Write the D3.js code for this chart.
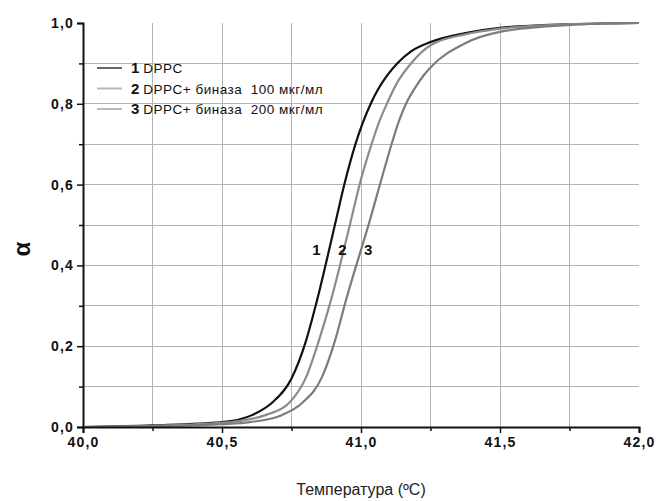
<!DOCTYPE html>
<html><head><meta charset="utf-8">
<script src="https://cdn.jsdelivr.net/npm/d3@7"></script>
<style>body{margin:0;background:#fff}svg{display:block}</style>
</head><body>
<script>
const T1 = [40.0, 40.25, 40.5, 40.61, 40.68, 40.75, 40.803, 40.842, 40.91, 40.94, 40.98, 41.035, 41.06, 41.13, 41.18, 41.25, 41.375, 41.5, 41.75, 42.0];
const A1 = [0.0, 0.004, 0.012, 0.03, 0.06, 0.12, 0.215, 0.314, 0.512, 0.6, 0.7, 0.8, 0.834, 0.9, 0.93, 0.953, 0.975, 0.988, 0.997, 1.0];
const T2 = [40.0, 40.25, 40.5, 40.659, 40.742, 40.803, 40.849, 40.892, 40.964, 40.995, 41.038, 41.068, 41.093, 41.128, 41.18, 41.25, 41.375, 41.5, 41.75, 42.0];
const A2 = [0.0, 0.003, 0.01, 0.03, 0.06, 0.124, 0.215, 0.314, 0.512, 0.6, 0.7, 0.76, 0.8, 0.85, 0.9, 0.945, 0.972, 0.986, 0.997, 1.0];
const T3 = [40.0, 40.25, 40.5, 40.6, 40.717, 40.789, 40.86, 40.907, 40.946, 41.032, 41.068, 41.11, 41.138, 41.162, 41.195, 41.225, 41.25, 41.375, 41.5, 41.75, 42.0];
const A3 = [0.0, 0.002, 0.007, 0.012, 0.03, 0.06, 0.124, 0.215, 0.314, 0.512, 0.6, 0.7, 0.76, 0.8, 0.84, 0.87, 0.89, 0.95, 0.978, 0.995, 1.0];
const seriesNames = ["DPPC", "DPPC+ биназа\u00a0\u00a0100 мкг/мл", "DPPC+ биназа\u00a0\u00a0200 мкг/мл"];
const seriesNums = ["1", "2", "3"];
const curveLabelPos = [[40.84, 0.44], [40.933, 0.44], [41.026, 0.44]];
const xTicks = [40.0, 40.5, 41.0, 41.5, 42.0];
const yTicks = [0.0, 0.2, 0.4, 0.6, 0.8, 1.0];
const xGrid = [40.25, 40.5, 40.75, 41.0, 41.25, 41.5, 41.75];
const yGrid = [0.1, 0.2, 0.3, 0.4, 0.5, 0.6, 0.7, 0.8, 0.9];
const xLabel = "Температура (ºC)";
const yLabel = "α";

const W = 657, H = 501;
const x = d3.scaleLinear().domain([40, 42]).range([83, 639]);
const y = d3.scaleLinear().domain([0, 1]).range([427, 23]);
const fmt = v => d3.format(".1f")(v).replace(".", ",");

const svg = d3.select("body").append("svg").attr("width", W).attr("height", H)
  .style("font-family", "Arial, 'Liberation Sans', sans-serif");

// grid
svg.append("g").selectAll("line").data(yGrid).join("line")
  .attr("x1", x(40)).attr("x2", x(42)).attr("y1", d => y(d)).attr("y2", d => y(d))
  .attr("stroke", "#b4b4b4").attr("stroke-width", 1).attr("shape-rendering", "crispEdges");
svg.append("g").selectAll("line").data(xGrid).join("line")
  .attr("y1", y(0)).attr("y2", y(1)).attr("x1", d => x(d)).attr("x2", d => x(d))
  .attr("stroke", "#b4b4b4").attr("stroke-width", 1).attr("shape-rendering", "crispEdges");

// curves
const series = [
  {T: T1, A: A1, color: "#111", w: 2.2},
  {T: T2, A: A2, color: "#8c8c8c", w: 2.2},
  {T: T3, A: A3, color: "#7c7c7c", w: 2.2}
];
const line = d3.line().x(d => x(d[0])).y(d => y(d[1])).curve(d3.curveMonotoneX);
svg.append("g").selectAll("path").data(series).join("path")
  .attr("d", s => line(s.T.map((t, i) => [t, s.A[i]])))
  .attr("fill", "none").attr("stroke", s => s.color).attr("stroke-width", s => s.w);

// axes
const xAxis = d3.axisBottom(x).tickValues(xTicks).tickFormat(fmt).tickSize(6).tickPadding(4);
const xMinor = d3.axisBottom(x).tickValues(xGrid.filter(v => !xTicks.includes(v))).tickFormat("").tickSize(4);
svg.append("g").attr("transform", `translate(0,${y(0)})`).call(xAxis);
svg.append("g").attr("transform", `translate(0,${y(0)})`).call(xMinor).select(".domain").remove();
const yAxis = d3.axisLeft(y).tickValues(yTicks).tickFormat(fmt).tickSize(6).tickPadding(3);
const yMinor = d3.axisLeft(y).tickValues([0.1,0.3,0.5,0.7,0.9]).tickFormat("").tickSize(4);
svg.append("g").attr("transform", `translate(${x(40)},0)`).call(yAxis);
svg.append("g").attr("transform", `translate(${x(40)},0)`).call(yMinor).select(".domain").remove();
svg.selectAll(".domain").attr("stroke", "#111").attr("stroke-width", 2);
svg.selectAll(".tick line").attr("stroke", "#111").attr("stroke-width", 1.5);
svg.selectAll(".tick text").attr("font-size", 14).attr("font-weight", "bold").attr("fill", "#111")
  .attr("letter-spacing", 1.2)
  .attr("font-family", "Arial, 'Liberation Sans', sans-serif");

// axis labels
svg.append("text").attr("x", (x(40) + x(42)) / 2).attr("y", 495).attr("text-anchor", "middle")
  .attr("font-size", 16).attr("fill", "#222").text(xLabel);
svg.append("text").attr("transform", `translate(30,249) rotate(-90)`).attr("text-anchor", "middle")
  .attr("font-size", 24).attr("font-weight", "bold").attr("fill", "#111").text(yLabel);

// legend
const legColors = ["#333", "#b8b8b8", "#888"];
const legWidths = [1.5, 2, 1.2];
const leg = svg.append("g");
seriesNames.forEach((name, i) => {
  const yy = 68 + i * 20.5;
  leg.append("line").attr("x1", 97).attr("x2", 122).attr("y1", yy).attr("y2", yy)
    .attr("stroke", legColors[i]).attr("stroke-width", legWidths[i]);
  const t = leg.append("text").attr("x", 131).attr("y", yy + 5).attr("fill", "#111");
  t.append("tspan").attr("font-size", 15).attr("font-weight", "bold").text(seriesNums[i]);
  t.append("tspan").attr("font-size", 13.5).attr("dx", 4).attr("letter-spacing", 0.5).text(name);
});

// curve labels
svg.append("g").selectAll("text").data(curveLabelPos).join("text")
  .attr("x", d => x(d[0])).attr("y", d => y(d[1]) + 6).attr("text-anchor", "middle")
  .attr("font-size", 15).attr("font-weight", "bold").attr("fill", "#111")
  .text((d, i) => seriesNums[i]);
</script>
</body></html>
